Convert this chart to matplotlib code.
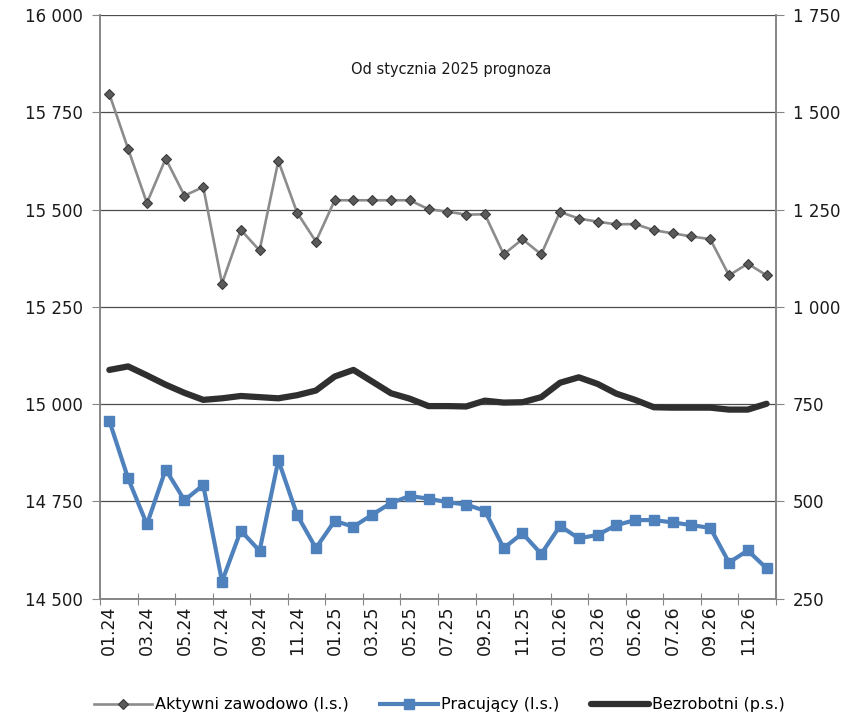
import numpy as np
import matplotlib.pyplot as plt
from matplotlib.ticker import FuncFormatter, FixedLocator

# months 01.24 - 12.26
months = [f"{m:02d}.{y}" for y in (24, 25, 26) for m in range(1, 13)]

aktywni = [15797, 15656, 15517, 15631, 15536, 15558, 15310, 15448, 15395, 15625,
           15492, 15418, 15524, 15524, 15524, 15524, 15524, 15501, 15495, 15487,
           15488, 15385, 15424, 15385, 15494, 15477, 15469, 15462, 15463, 15447,
           15439, 15431, 15424, 15331, 15361, 15331]
pracujacy = [14957, 14809, 14691, 14832, 14753, 14792, 14544, 14675, 14623, 14856,
             14715, 14630, 14700, 14685, 14716, 14746, 14764, 14757, 14748, 14742,
             14726, 14630, 14668, 14615, 14687, 14655, 14664, 14689, 14702, 14702,
             14696, 14689, 14682, 14593, 14624, 14578]
bezrobotni = [838, 847, 824, 800, 779, 761, 765, 771, 768, 765,
              773, 785, 821, 838, 808, 778, 764, 745, 745, 744,
              759, 754, 755, 768, 805, 819, 802, 777, 761, 742,
              741, 741, 741, 736, 736, 751]

fmt = FuncFormatter(lambda v, p: f"{int(v):,}".replace(",", " "))
x = np.arange(len(months))

fig = plt.figure(figsize=(8.45, 7.17), dpi=100)
ax = fig.add_axes([0.1183, 0.165, 0.8, 0.814])
ax2 = ax.twinx()

l1, = ax.plot(x, aktywni, color="#8c8c8c", lw=1.9, marker="D", ms=5,
              mfc="#5a5a5a", mec="#3a3a3a", mew=0.8, zorder=3)
l2, = ax.plot(x, pracujacy, color="#4f81bd", lw=3, marker="s", ms=6.5,
              mfc="#4f81bd", mec="#4f81bd", zorder=3)
l3, = ax2.plot(x, bezrobotni, color="#2f2f2f", lw=4.5, solid_capstyle="round",
               solid_joinstyle="round")

ax.set_xlim(-0.5, len(months) - 0.5)
ax.set_ylim(14500, 16000)
ax.set_yticks(np.arange(14500, 16001, 250))
ax.yaxis.set_major_formatter(fmt)
ax2.set_ylim(250, 1750)
ax2.set_yticks(np.arange(250, 1751, 250))
ax2.yaxis.set_major_formatter(fmt)

ax.grid(axis="y", color="#4d4d4d", lw=0.9)
ax.set_axisbelow(True)

# category ticks: marks at boundaries, labels at every 2nd month
ax.xaxis.set_major_locator(FixedLocator(np.arange(-0.5, len(months), 2)))
ax.xaxis.set_minor_locator(FixedLocator(x[::2]))
ax.set_xticklabels([])
ax.set_xticklabels(months[::2], minor=True, rotation=90)
ax.tick_params(axis="x", which="major", direction="inout", length=8,
               color="#868686")
ax.tick_params(axis="x", which="minor", length=0, pad=5, labelsize=12.5,
               labelcolor="#1a1a1a")
ax.tick_params(axis="y", length=6, color="#868686", labelsize=12,
               labelcolor="#1a1a1a", pad=6)
ax2.tick_params(axis="y", length=6, color="#868686", labelsize=12,
                labelcolor="#1a1a1a", pad=6)

for a in (ax, ax2):
    a.spines["top"].set_visible(False)
    for s in ("left", "right", "bottom"):
        a.spines[s].set_color("#868686")
        a.spines[s].set_linewidth(1.2)

ax.text(0.519, 0.906, "Od stycznia 2025 prognoza", transform=ax.transAxes,
        ha="center", va="center", fontsize=10.5, color="#1a1a1a")

fig.legend([l1, l2, l3],
           ["Aktywni zawodowo (l.s.)", "Pracujący (l.s.)", "Bezrobotni (p.s.)"],
           loc="center", bbox_to_anchor=(0.52, 0.017), ncol=3, frameon=False,
           fontsize=11.5, handlelength=3.6, handletextpad=0.2,
           columnspacing=2.0)

fig.savefig("out.png", dpi=100)
